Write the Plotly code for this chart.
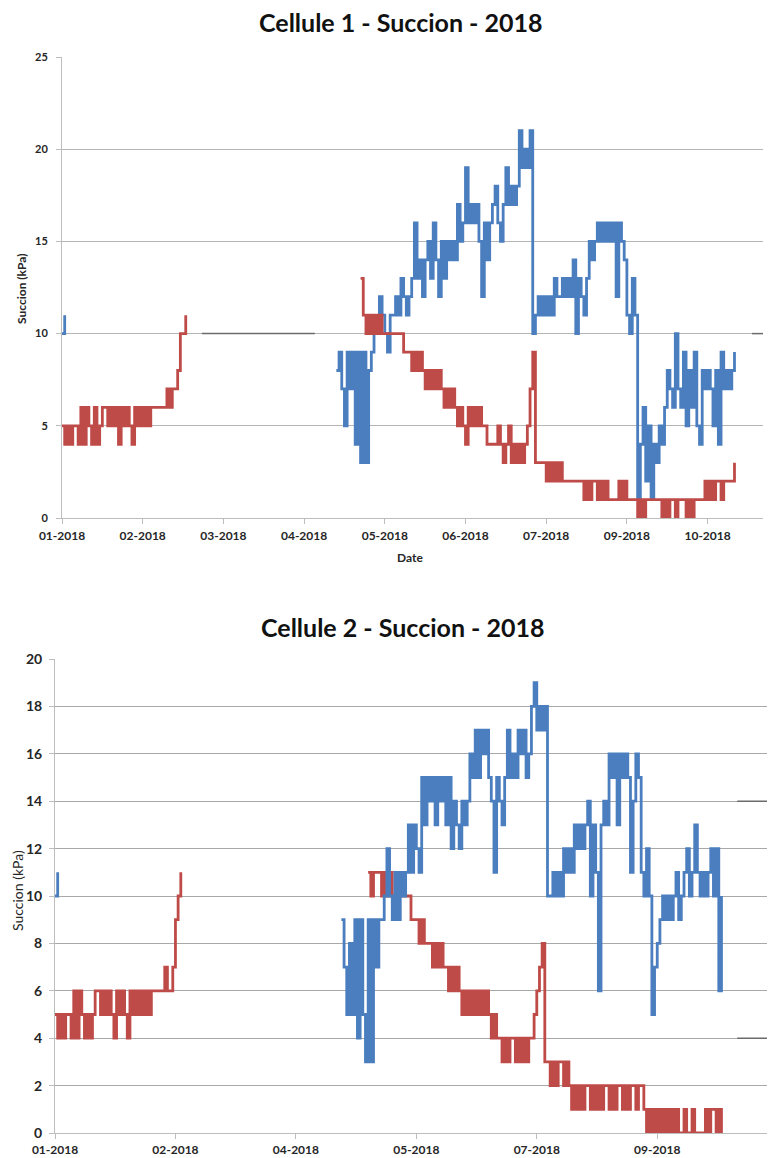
import plotly.graph_objects as go

# ---------------- DATA ----------------
# x is a sample index; tick labels mark month positions along the index
c1_tick_pos = [0, 30, 60, 90, 120, 150, 180, 210, 240]
c1_tick_text = ["01-2018", "02-2018", "03-2018", "04-2018", "05-2018",
                "06-2018", "07-2018", "09-2018", "10-2018"]
c2_tick_pos = [0, 45, 90, 135, 180, 225]
c2_tick_text = ["01-2018", "02-2018", "04-2018", "05-2018", "07-2018", "09-2018"]

# Cellule 1
c1_blue_a_start = 0
c1_blue_a = [10, 11]
c1_red_a_start = 0
c1_red_a = [5, 4, 5, 4, 5, 5, 4, 6, 4, 6, 5, 4, 6, 4, 5, 6, 6, 5, 6, 5,
            6, 4, 6, 5, 6, 5, 4, 6, 5, 6, 5, 6, 5, 6, 6, 6, 6, 6, 6, 7,
            6, 7, 7, 8, 10, 10, 11]
c1_blue_b_start = 102
c1_blue_b = [8, 9, 7, 5, 9, 7, 9, 4, 9, 3, 9, 3, 8, 9, 10, 10, 12, 11, 10, 9,   # 102-121
             11, 11, 12, 11, 13, 12, 11, 12, 13, 16, 13, 14, 12, 14, 15, 13, 16, 14, 12, 15,  # 122-141
             13, 15, 14, 15, 14, 17, 15, 16, 19, 16, 17, 16, 17, 15, 12, 16, 14, 16, 17, 18,  # 142-161
             16, 15, 17, 19, 17, 18, 17, 18, 21, 19, 20, 19, 21, 10, 11, 12, 11, 12, 11, 12,  # 162-181
             11, 13, 12, 12, 13, 12, 13, 12, 14, 10, 13, 12, 11, 13, 15, 14, 15, 16, 15, 16,  # 182-201
             15, 16, 15, 16, 12, 16, 15, 14, 11, 10, 13, 11, 1, 4, 6, 2, 5, 1, 4, 3,          # 202-221
             5, 4, 6, 8, 7, 6, 10, 7, 6, 9, 5, 8, 6, 9, 5, 4, 8, 7, 8, 7,                     # 222-241
             5, 8, 4, 9, 7, 8, 7, 8, 9]                                                       # 242-250
c1_red_b_start = 111
c1_red_b = [13, 11, 10, 11, 10, 11, 10, 11, 10, 10, 10, 10, 10, 10, 10, 10, 9, 9, 9, 8,  # 111-130
            9, 8, 9, 8, 7, 8, 7, 8, 7, 8, 7, 6, 7, 6, 7, 6, 5, 6, 5, 4,                  # 131-150
            6, 5, 6, 5, 6, 5, 5, 4, 4, 4, 4, 5, 4, 3, 4, 5, 3, 4, 3, 4,                  # 151-170
            3, 4, 5, 7, 9, 3, 3, 3, 3, 2, 3, 2, 3, 2, 3, 2, 2, 2, 2, 2,                  # 171-190
            2, 2, 2, 1, 2, 1, 2, 2, 1, 2, 1, 2, 1, 1, 1, 1, 2, 1, 2, 1,                  # 191-210
            1, 1, 1, 0, 1, 0, 1, 1, 1, 1, 1, 1, 0, 1, 0, 1, 1, 0, 1, 1,                  # 211-230
            1, 0, 1, 0, 1, 1, 1, 1, 2, 1, 2, 1, 2, 2, 1, 2, 2, 2, 2, 3]                  # 231-250
c1_gray_x = [52, 94, None, 256.5, 260.6]
c1_gray_y = [10, 10, None, 10, 10]

# Cellule 2
c2_blue_a_start = 0
c2_blue_a = [10, 11]
c2_red_a_start = 0
c2_red_a = [5, 4, 5, 4, 5, 5, 4, 6, 4, 6, 5, 4, 5, 4, 5, 6, 6, 5, 6, 5,
            6, 5, 4, 6, 5, 6, 5, 4, 6, 5, 6, 5, 6, 5, 6, 5, 6, 6, 6, 6,
            6, 7, 6, 6, 7, 9, 10, 11]
c2_blue_b_start = 107
c2_blue_b = [9, 7, 5, 8, 5, 9, 4, 9, 5, 3, 9, 3, 9, 7, 9, 9, 10, 12, 10, 9,            # 107-126
             11, 9, 11, 10, 11, 13, 11, 13, 12, 11, 15, 13, 15, 14, 15, 13, 15, 14, 15, 13,  # 127-146
             15, 12, 14, 13, 12, 14, 13, 14, 16, 15, 17, 15, 17, 16, 17, 15, 14, 11, 15, 14,  # 147-166
             13, 15, 17, 15, 16, 15, 17, 16, 17, 15, 16, 18, 19, 17, 18, 17, 18, 10, 10, 11,  # 167-186
             10, 11, 10, 12, 11, 12, 11, 13, 12, 13, 12, 13, 14, 10, 13, 11, 6, 13, 14, 13,   # 187-206
             16, 15, 16, 13, 16, 15, 16, 15, 11, 14, 16, 15, 11, 10, 12, 10, 5, 7, 8, 9,      # 207-226
             10, 9, 10, 9, 10, 11, 9, 10, 11, 12, 10, 11, 13, 11, 10, 11, 10, 11, 12, 10,     # 227-246
             12, 6, 10]                                                                     # 247-249
c2_red_b_start = 117
c2_red_b = [11, 10, 11, 11, 11, 10, 11, 10, 11, 10, 10, 10, 10, 10, 10, 10, 9, 9, 9, 8,  # 117-136
            9, 8, 8, 8, 7, 8, 7, 8, 7, 7, 6, 7, 6, 7, 6, 5, 6, 5, 6, 5,                  # 137-156
            6, 5, 6, 5, 6, 5, 4, 5, 4, 4, 3, 4, 3, 4, 4, 3, 4, 3, 4, 3,                  # 157-176
            4, 4, 5, 6, 7, 8, 3, 3, 2, 3, 2, 3, 3, 2, 3, 2, 1, 2, 1, 2,                  # 177-196
            1, 2, 2, 1, 2, 1, 2, 1, 2, 2, 1, 2, 1, 2, 2, 1, 2, 1, 2, 2,                  # 197-216
            1, 2, 2, 1, 0, 1, 0, 1, 0, 1, 0, 1, 0, 1, 0, 1, 0, 0, 1, 0,                  # 217-236
            0, 1, 0, 0, 0, 0, 1, 0, 1, 1, 0, 1, 0]                                       # 237-249
c2_gray_x = [254.9, 268.4, None, 254.9, 268.4]
c2_gray_y = [14, 14, None, 4, 4]

# ---------------- BUILD ----------------
def build(segments):
    xs, ys = [], []
    for start, vals in segments:
        if xs:
            xs.append(None)
            ys.append(None)
        xs.extend(range(start, start + len(vals)))
        ys.extend(vals)
    return xs, ys

BLUE = "#4a7ebf"
RED = "#be4b48"
GRAY = "#6b6b6b"

# the page body has an 8px margin: the figure div starts at (8, 8) in the window
OFF = 8
W, H = 775 - OFF, 1158 - OFF

def px_x(p):
    return (p - OFF) / W

def px_y(p):
    return 1 - (p - OFF) / H

fig = go.Figure()

b1x, b1y = build([(c1_blue_a_start, c1_blue_a), (c1_blue_b_start, c1_blue_b)])
r1x, r1y = build([(c1_red_a_start, c1_red_a), (c1_red_b_start, c1_red_b)])
b2x, b2y = build([(c2_blue_a_start, c2_blue_a), (c2_blue_b_start, c2_blue_b)])
r2x, r2y = build([(c2_red_a_start, c2_red_a), (c2_red_b_start, c2_red_b)])

LW = 2.8
SHAPE = "hv"
fig.add_trace(go.Scatter(x=c1_gray_x, y=c1_gray_y, mode="lines",
                         line=dict(color=GRAY, width=1.5), xaxis="x", yaxis="y"))
fig.add_trace(go.Scatter(x=b1x, y=b1y, mode="lines",
                         line=dict(color=BLUE, width=LW, shape=SHAPE), xaxis="x", yaxis="y"))
fig.add_trace(go.Scatter(x=r1x, y=r1y, mode="lines",
                         line=dict(color=RED, width=LW, shape=SHAPE), xaxis="x", yaxis="y"))

fig.add_trace(go.Scatter(x=c2_gray_x, y=c2_gray_y, mode="lines",
                         line=dict(color=GRAY, width=1.5), xaxis="x2", yaxis="y2"))
fig.add_trace(go.Scatter(x=r2x, y=r2y, mode="lines",
                         line=dict(color=RED, width=LW, shape=SHAPE), xaxis="x2", yaxis="y2"))
fig.add_trace(go.Scatter(x=b2x, y=b2y, mode="lines",
                         line=dict(color=BLUE, width=LW, shape=SHAPE), xaxis="x2", yaxis="y2"))

FONT = "Lato"
TICKCOL = "#262626"
AXCOL = "#bdbdbd"

common_axis = dict(automargin=False, zeroline=False, showline=True, linecolor=AXCOL,
                   ticks="outside", ticklen=5, tickcolor=AXCOL)

def ann(text, x, y, size, angle=0):
    return dict(text=text, x=px_x(x), y=px_y(y), xref="paper", yref="paper",
                xanchor="center", yanchor="middle", showarrow=False, textangle=angle,
                font=dict(family=FONT, size=size, color="#111111" if size > 20 else TICKCOL))

fig.update_layout(
    template="none",
    width=W, height=H,
    margin=dict(l=0, r=0, t=0, b=0, pad=0),
    paper_bgcolor="white", plot_bgcolor="white",
    showlegend=False,
    font=dict(family=FONT, color=TICKCOL),
    xaxis=dict(domain=[px_x(62), px_x(763)], range=[0, 260.6],
               tickvals=c1_tick_pos, ticktext=c1_tick_text, showgrid=False,
               ticklabelstandoff=2,
               tickfont=dict(family=FONT, size=12, color=TICKCOL, weight="bold"),
               anchor="y", **common_axis),
    yaxis=dict(domain=[px_y(518), px_y(57)], range=[0, 25], dtick=5,
               showgrid=True, gridcolor="#b5b5b5", gridwidth=1,
               ticklabelstandoff=6,
               tickfont=dict(family=FONT, size=11, color=TICKCOL, weight="bold"),
               anchor="x", **common_axis),
    xaxis2=dict(domain=[px_x(55), px_x(775)], range=[0, 269.0],
                tickvals=c2_tick_pos, ticktext=c2_tick_text, showgrid=False,
                ticklabelstandoff=1,
                tickfont=dict(family=FONT, size=12, color=TICKCOL, weight="bold"),
                anchor="y2", **common_axis),
    yaxis2=dict(domain=[px_y(1133), px_y(659)], range=[0, 20], dtick=2,
                showgrid=True, gridcolor="#a8a8a8", gridwidth=1,
                ticklabelstandoff=4,
                tickfont=dict(family=FONT, size=14, color=TICKCOL, weight="bold"),
                anchor="x2", **common_axis),
    annotations=[
        ann("<b>Cellule 1 - Succion - 2018</b>", 401, 22, 25),
        ann("<b>Cellule 2 - Succion - 2018</b>", 403, 627, 25),
        ann("<b>Date</b>", 410, 557, 12),
        ann("<b>Succion (kPa)</b>", 22, 289, 12, -90),
        ann("Succion (kPa)", 17, 891, 14, -90),
    ],
)

fig.write_html("out.html")
